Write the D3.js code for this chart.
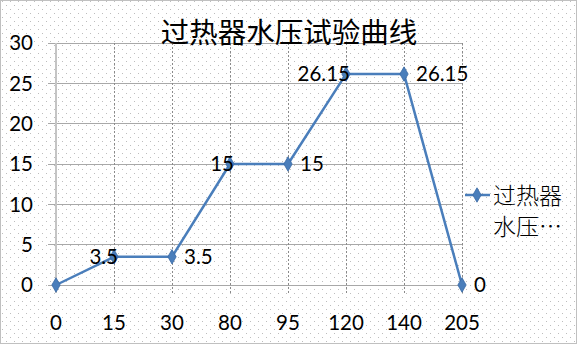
<!DOCTYPE html>
<html><head><meta charset="utf-8">
<script src="https://cdn.jsdelivr.net/npm/d3@7"></script>
<style>html,body{margin:0;padding:0;background:#fff;}svg{display:block;}</style>
</head><body><svg id="c" width="578" height="345"></svg>
<script>
const title = "过热器水压试验曲线";
const categories = ["0","15","30","80","95","120","140","205"];
const values = [0, 3.5, 3.5, 15, 15, 26.15, 26.15, 0];
const labelSide = ["none","left","right","left","right","left","right","right"];
const yTicks = [0,5,10,15,20,25,30];
const legendLines = ["过热器","水压…"];

const svg = d3.select("#c");
const W = 578, H = 345;
const defs = svg.append("defs");
const pat = defs.append("pattern").attr("id","dots").attr("patternUnits","userSpaceOnUse")
  .attr("width",8).attr("height",8);
pat.append("rect").attr("x",2).attr("y",1).attr("width",1).attr("height",1).attr("fill","#bdbdbd");
pat.append("rect").attr("x",6).attr("y",5).attr("width",1).attr("height",1).attr("fill","#bdbdbd");
svg.append("rect").attr("width",W).attr("height",H).attr("fill","#fff");
svg.append("rect").attr("width",W).attr("height",H).attr("fill","url(#dots)");
svg.append("rect").attr("x",0.5).attr("y",0.5).attr("width",W-2).attr("height",H-2)
  .attr("fill","none").attr("stroke","#808080").attr("stroke-dasharray","1,1");

const x = d3.scalePoint().domain(categories).range([56,462]);
const y = d3.scaleLinear().domain([0,30]).range([285,43]);
const numFont = "Lato, 'Open Sans', sans-serif";

// horizontal gridlines
svg.append("g").selectAll("line").data(yTicks).join("line")
  .attr("x1",48).attr("x2",462).attr("y1",d=>y(d)).attr("y2",d=>y(d))
  .attr("stroke","#a8a8a8").attr("stroke-width",1).attr("shape-rendering","crispEdges");
// vertical gridlines
svg.append("g").selectAll("line").data(categories.slice(1)).join("line")
  .attr("x1",d=>x(d)).attr("x2",d=>x(d)).attr("y1",43).attr("y2",293)
  .attr("stroke","#8a8a8a").attr("stroke-width",1).attr("stroke-dasharray","2,2")
  .attr("shape-rendering","crispEdges");
// y axis line
svg.append("line").attr("x1",56).attr("x2",56).attr("y1",43).attr("y2",293)
  .attr("stroke","#c4c4c4").attr("stroke-width",2).attr("shape-rendering","crispEdges");

// y tick labels
svg.append("g").selectAll("text").data(yTicks).join("text")
  .attr("x",33).attr("y",d=>y(d)).attr("dy","0.36em").attr("text-anchor","end")
  .attr("font-family",numFont).attr("font-size",20.5).attr("fill","#000").text(d=>d);
// x tick labels
svg.append("g").selectAll("text").data(categories).join("text")
  .attr("x",d=>x(d)).attr("y",323).attr("dy","0.36em").attr("text-anchor","middle")
  .attr("font-family",numFont).attr("font-size",20.5).attr("fill","#000").text(d=>d);

// title
svg.append("text").attr("x",289).attr("y",43).attr("text-anchor","middle")
  .attr("font-family","'Noto Sans CJK SC', sans-serif").attr("font-size",28.5)
  .attr("fill","#000").text(title);

const color = "#4a7ebb";
const pts = categories.map((c,i)=>({c, v:values[i], side:labelSide[i]}));
svg.append("path").datum(pts)
  .attr("d", d3.line().x(d=>x(d.c)).y(d=>y(d.v)))
  .attr("fill","none").attr("stroke",color).attr("stroke-width",2.5).attr("stroke-linejoin","round");
const diamond = d3.symbol().type(d3.symbolDiamond).size(60);
svg.append("g").selectAll("path").data(pts).join("path")
  .attr("d",diamond).attr("transform",d=>`translate(${x(d.c)},${y(d.v)})`)
  .attr("fill",color).attr("stroke","#3a6aa5").attr("stroke-width",0.8);

// data labels
svg.append("g").selectAll("text").data(pts.filter(d=>d.side!=="none")).join("text")
  .attr("x",d=>d.side==="left" ? x(d.c)+4 : x(d.c)+12)
  .attr("y",d=>y(d.v)).attr("dy","0.36em")
  .attr("text-anchor",d=>d.side==="left"?"end":"start")
  .attr("font-family",numFont).attr("font-size",20.5).attr("fill","#000").text(d=>d.v);

// legend
svg.append("line").attr("x1",465).attr("x2",490).attr("y1",195).attr("y2",195)
  .attr("stroke",color).attr("stroke-width",2.5);
svg.append("path").attr("d",diamond).attr("transform","translate(477,195)")
  .attr("fill",color).attr("stroke","#3a6aa5").attr("stroke-width",0.8);
svg.append("g").selectAll("text").data(legendLines).join("text")
  .attr("x",493).attr("y",(d,i)=>196+i*31).attr("dy","0.36em")
  .attr("font-family","'Noto Sans CJK SC', sans-serif").attr("font-size",23)
  .attr("font-weight",300).attr("fill","#000").text(d=>d);
</script></body></html>
